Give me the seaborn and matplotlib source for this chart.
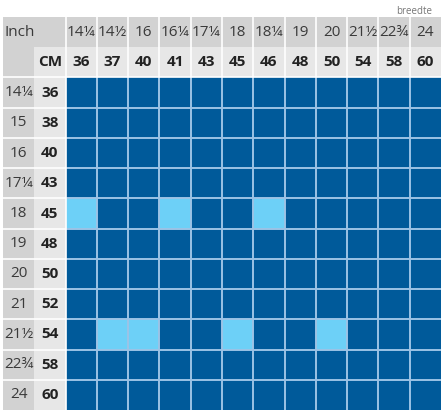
import numpy as np
import pandas as pd
import matplotlib
matplotlib.use("Agg")
import matplotlib.pyplot as plt
from matplotlib.colors import ListedColormap
import seaborn as sns

# ---- data ----
inch_cols = ["14¼", "14½", "16", "16¼", "17¼", "18", "18¼", "19", "20", "21½", "22¾", "24"]
cm_cols = [36, 37, 40, 41, 43, 45, 46, 48, 50, 54, 58, 60]
inch_rows = ["14¼", "15", "16", "17¼", "18", "19", "20", "21", "21½", "22¾", "24"]
cm_rows = [36, 38, 40, 43, 45, 48, 50, 52, 54, 58, 60]
highlight_45 = [36, 41, 46]
highlight_54 = [37, 40, 45, 50]
highlights = {45: highlight_45, 54: highlight_54}

# ---- build grid (0 dark blue, 1 light blue, 2 dark grey header, 3 light grey header) ----
nr, nc = len(cm_rows), len(cm_cols)
data = pd.DataFrame(0, index=cm_rows, columns=cm_cols)
for r, cols in highlights.items():
    for c in cols:
        data.loc[r, c] = 1

grid = np.zeros((nr + 2, nc + 2))
grid[2:, 2:] = data.values
grid[0, :] = 2
grid[1, 2:] = 3
grid[1, 0] = 2
grid[1, 1] = 3
grid[2:, 0] = 2
grid[2:, 1] = 3

sns.set_theme(style="white")
plt.rcParams["font.family"] = ["Open Sans", "DejaVu Sans"]

fig = plt.figure(figsize=(4.41, 4.16), dpi=100)
W, H = 441, 416
ax = fig.add_axes([3 / W, (H - 410) / H, (441 - 3) / W, (410 - 17) / H])

cmap = ListedColormap(["#005A9A", "#6DD0F7", "#D2D2D2", "#E7E7E7"])
sns.heatmap(grid, ax=ax, cmap=cmap, vmin=-0.5, vmax=3.5, cbar=False,
            linewidths=0, xticklabels=False, yticklabels=False)

R, C = nr + 2, nc + 2
grid_c = "#9CC3E6"
lw_d = 1.4
lw_w = 1.2
for x in range(3, C):
    ax.plot([x, x], [2, R], color=grid_c, lw=lw_d, solid_capstyle="butt")
for y in range(3, R):
    ax.plot([2, C], [y, y], color=grid_c, lw=lw_d, solid_capstyle="butt")
ax.plot([2, 2], [0, R], color="white", lw=lw_w, solid_capstyle="butt")
ax.plot([0, C], [2, 2], color="white", lw=lw_w, solid_capstyle="butt")
for x in range(3, C):
    ax.plot([x, x], [0, 2], color="white", lw=lw_w, solid_capstyle="butt")
for y in range(3, R):
    ax.plot([0, 2], [y, y], color="white", lw=lw_w, solid_capstyle="butt")

ax.set_xlim(0, C)
ax.set_ylim(R, 0)
ax.axis("off")

txt = "#3a3a3a"
btxt = "#222222"
fs = 11
ax.text(0.05, 0.5, "Inch", ha="left", va="center", fontsize=fs, color=txt)
ax.text(1.5, 1.5, "CM", ha="center", va="center", fontsize=fs, color=btxt, fontweight="bold")
for j, (ic, cc) in enumerate(zip(inch_cols, cm_cols)):
    ax.text(j + 2.5, 0.5, ic, ha="center", va="center", fontsize=fs, color=txt)
    ax.text(j + 2.5, 1.5, str(cc), ha="center", va="center", fontsize=fs,
            color=btxt, fontweight="bold")
for i, (ir, cr) in enumerate(zip(inch_rows, cm_rows)):
    ax.text(0.5, i + 2.5, ir, ha="center", va="center", fontsize=fs, color=txt)
    ax.text(1.5, i + 2.5, str(cr), ha="center", va="center", fontsize=fs,
            color=btxt, fontweight="bold")

fig.text(414 / W, 1 - 11 / H, "breedte", ha="center", va="center", fontsize=7, color="#777777")

fig.savefig("out.png", dpi=100)
